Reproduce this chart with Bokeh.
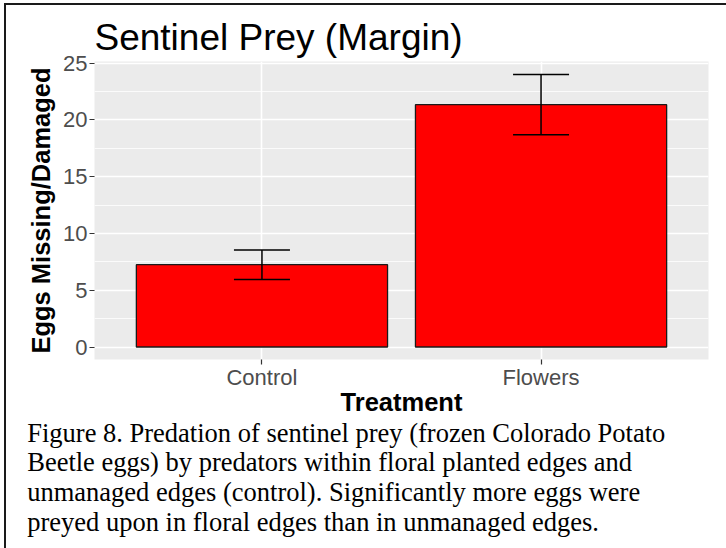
from bokeh.plotting import figure
from bokeh.models import (FactorRange, Range1d, FixedTicker, Whisker, TeeHead,
                          ColumnDataSource, Title)
from bokeh.embed import file_html
from bokeh.resources import INLINE

# ---------------- data ----------------
title_text = "Sentinel Prey (Margin)"
categories = ["Control", "Flowers"]
means = [7.25, 21.35]
errors = [1.3, 2.65]
y_ticks = [0, 5, 10, 15, 20, 25]
x_label = "Treatment"
y_label = "Eggs Missing/Damaged"
caption_lines = [
    "Figure 8. Predation of sentinel prey (frozen Colorado Potato",
    "Beetle eggs) by predators within floral planted edges and",
    "unmanaged edges (control). Significantly more eggs were",
    "preyed upon in floral edges than in unmanaged edges.",
]

upper = [m + e for m, e in zip(means, errors)]
lower = [m - e for m, e in zip(means, errors)]
source = ColumnDataSource(dict(cat=categories, mean=means, upper=upper, lower=lower))
minor_ticks = [(a + b) / 2 for a, b in zip(y_ticks[:-1], y_ticks[1:])]

# ---------------- layout ----------------
W, H = 726, 548
FL, FR, FT, FB = 94, 18, 61, 189

p = figure(width=W, height=H,
           x_range=FactorRange(factors=categories, range_padding=0.1),
           y_range=Range1d(-1.1, 25.15),
           output_backend="svg", toolbar_location=None,
           min_border_left=FL, min_border_right=FR,
           min_border_top=FT, min_border_bottom=FB)

p.background_fill_color = "#EBEBEB"
p.border_fill_color = None
p.outline_line_color = None
# thin top/left frame line of the original figure image
p.styles = {"box-shadow": "inset 4px 3px 0 0 white, inset 6px 5px 0 0 #1A1A1A",
            "background-color": "white"}

# title
p.title.text = title_text
p.title.align = "left"
p.title.text_font = "Liberation Sans"
p.title.text_font_style = "normal"
p.title.text_font_size = "37px"
p.title.text_color = "black"
p.title.standoff = 8

p.ygrid.grid_line_color = "white"
p.ygrid.grid_line_width = 1.6
p.ygrid.minor_grid_line_color = "white"
p.ygrid.minor_grid_line_width = 0.8
p.xgrid.grid_line_color = "white"
p.xgrid.grid_line_width = 1.6

p.yaxis.ticker = FixedTicker(ticks=y_ticks, minor_ticks=minor_ticks)
p.xaxis.axis_label = x_label
p.yaxis.axis_label = y_label
for ax in (p.xaxis[0], p.yaxis[0]):
    ax.axis_line_color = None
    ax.major_tick_line_color = "#333333"
    ax.major_tick_line_width = 1.2
    ax.major_tick_out = 5
    ax.major_tick_in = 0
    ax.minor_tick_line_color = None
    ax.major_label_text_font = "Liberation Sans"
    ax.major_label_text_font_size = "22px"
    ax.major_label_text_color = "#4D4D4D"
    ax.axis_label_text_font = "Liberation Sans"
    ax.axis_label_text_font_style = "bold"
    ax.axis_label_text_font_size = "25.5px"
    ax.axis_label_text_color = "black"
p.yaxis.major_label_standoff = 2
p.yaxis.axis_label_standoff = 5
p.xaxis.major_label_standoff = 0
p.xaxis.axis_label_standoff = -5

# ---------------- marks ----------------
p.vbar(x="cat", top="mean", bottom=0, width=0.9, source=source,
       fill_color="#FF0000", line_color="#1A1A1A", line_width=1.3)

whisk = Whisker(base="cat", upper="upper", lower="lower", source=source,
                line_color="black", line_width=1.5, level="annotation",
                upper_head=TeeHead(size=56, line_color="black", line_width=1.5),
                lower_head=TeeHead(size=56, line_color="black", line_width=1.5))
p.add_layout(whisk)

# ---------------- caption ----------------
caption_standoffs = [-4, -2, -2, -2]
for line, so in zip(caption_lines, caption_standoffs):
    p.add_layout(Title(text=line, align="left", offset=-67.3,
                       vertical_align="middle",
                       text_font="Liberation Serif", text_font_style="normal",
                       text_font_size="26.5px", text_color="black",
                       standoff=so), "below")

open("out.html", "w").write(file_html(p, INLINE))
